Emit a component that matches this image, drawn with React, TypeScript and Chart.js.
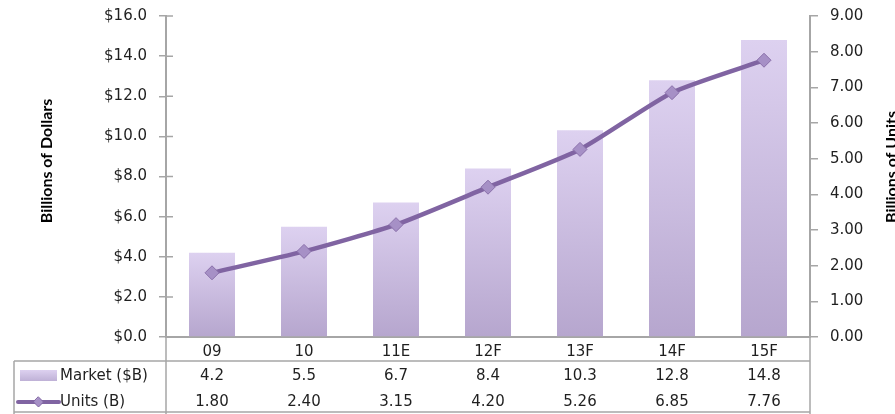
import React, { useEffect, useRef } from "react";
import { Chart, registerables } from "chart.js";

Chart.register(...registerables);

const categories = ["09", "10", "11E", "12F", "13F", "14F", "15F"];
const marketValues = [4.2, 5.5, 6.7, 8.4, 10.3, 12.8, 14.8];
const unitValues = [1.8, 2.4, 3.15, 4.2, 5.26, 6.85, 7.76];
const marketLabel = "Market ($B)";
const unitsLabel = "Units (B)";
const leftTitle = "Billions of Dollars";
const rightTitle = "Billions of Units";

const FONT = "'DejaVu Sans', Verdana, sans-serif";
const TEXT = "#1f1f1f";
const GRID = "#a6a6a6";
const LINE = "#8064a2";
const MARKER = "#a690c6";

export default function App() {
  const ref = useRef<HTMLCanvasElement | null>(null);

  useEffect(() => {
    const canvas = ref.current;
    if (!canvas) return;

    const tablePlugin = {
      id: "tablePlugin",
      afterDraw(chart: any) {
        const ctx = chart.ctx;
        const area = chart.chartArea;
        const x = chart.scales.x;
        const left = area.left;
        const right = area.right;
        const bottom = area.bottom;
        const tableLeft = 14;
        const headerBottom = bottom + 24;
        const tableBottom = 412;
        ctx.save();
        ctx.strokeStyle = GRID;
        ctx.lineWidth = 1.5;
        ctx.beginPath();
        ctx.moveTo(tableLeft, headerBottom);
        ctx.lineTo(right, headerBottom);
        ctx.moveTo(tableLeft, tableBottom);
        ctx.lineTo(right, tableBottom);
        ctx.moveTo(tableLeft, headerBottom);
        ctx.lineTo(tableLeft, 414);
        ctx.moveTo(left, bottom);
        ctx.lineTo(left, 414);
        ctx.moveTo(right, bottom);
        ctx.lineTo(right, 414);
        ctx.stroke();

        // inner tick crossings on left axis
        const y = chart.scales.y;
        ctx.lineWidth = 1.5;
        ctx.beginPath();
        y.ticks.forEach((t: any) => {
          const py = y.getPixelForValue(t.value);
          ctx.moveTo(left, py);
          ctx.lineTo(left + 7, py);
        });
        ctx.stroke();

        const row1 = headerBottom + 15;
        const row2 = headerBottom + 41;
        ctx.fillStyle = TEXT;
        ctx.font = `15px ${FONT}`;
        ctx.textAlign = "center";
        ctx.textBaseline = "middle";
        marketValues.forEach((v, i) => {
          ctx.fillText(v.toFixed(1), x.getPixelForValue(i), row1);
        });
        unitValues.forEach((v, i) => {
          ctx.fillText(v.toFixed(2), x.getPixelForValue(i), row2);
        });

        // legend swatches
        const g = ctx.createLinearGradient(0, row1 - 6, 0, row1 + 6);
        g.addColorStop(0, "#ddd1f0");
        g.addColorStop(1, "#bcaed4");
        ctx.fillStyle = g;
        ctx.fillRect(20, row1 - 6, 37, 11);
        ctx.strokeStyle = LINE;
        ctx.lineWidth = 4;
        ctx.lineCap = "round";
        ctx.beginPath();
        ctx.moveTo(18, row2);
        ctx.lineTo(59, row2);
        ctx.stroke();
        ctx.fillStyle = MARKER;
        ctx.strokeStyle = LINE;
        ctx.lineWidth = 1;
        ctx.beginPath();
        ctx.moveTo(38.5, row2 - 5);
        ctx.lineTo(43.5, row2);
        ctx.lineTo(38.5, row2 + 5);
        ctx.lineTo(33.5, row2);
        ctx.closePath();
        ctx.fill();
        ctx.stroke();

        ctx.fillStyle = TEXT;
        ctx.textAlign = "left";
        ctx.fillText(marketLabel, 60, row1);
        ctx.fillText(unitsLabel, 60, row2);

        // axis titles
        ctx.fillStyle = "#000";
        ctx.font = `bold 16px Lato, 'Open Sans', sans-serif`;
        ctx.textAlign = "center";
        ctx.save();
        ctx.translate(47, 161);
        ctx.rotate(-Math.PI / 2);
        ctx.fillText(leftTitle, 0, 0);
        ctx.restore();
        ctx.save();
        ctx.translate(892, 167);
        ctx.rotate(-Math.PI / 2);
        ctx.fillText(rightTitle, 0, 0);
        ctx.restore();
        ctx.restore();
      },
    };

    const chart = new Chart(canvas, {
      type: "bar",
      data: {
        labels: categories,
        datasets: [
          {
            type: "line",
            label: unitsLabel,
            data: unitValues,
            yAxisID: "y1",
            borderColor: LINE,
            borderWidth: 4.5,
            tension: 0.2,
            pointStyle: "rectRot",
            pointRadius: 7,
            pointBackgroundColor: MARKER,
            pointBorderColor: "#8a70aa",
            pointBorderWidth: 1,
            order: 0,
          } as any,
          {
            type: "bar",
            label: marketLabel,
            data: marketValues,
            yAxisID: "y",
            order: 1,
            categoryPercentage: 1,
            barPercentage: 0.5,
            backgroundColor: (c: any) => {
              const chart = c.chart;
              const area = chart.chartArea;
              if (!area) return "#c8bae0";
              const v = c.raw ?? 0;
              const top = chart.scales.y.getPixelForValue(v);
              const g = chart.ctx.createLinearGradient(0, top, 0, area.bottom);
              g.addColorStop(0, "#ddd1f0");
              g.addColorStop(1, "#b6a6ce");
              return g;
            },
          } as any,
        ],
      },
      options: {
        responsive: false,
        animation: false,
        devicePixelRatio: 1,
        layout: { padding: { top: 16, left: 0, right: 0, bottom: 0 } },
        plugins: {
          legend: { display: false },
          tooltip: { enabled: false },
        },
        scales: {
          x: {
            grid: { display: false },
            border: { color: GRID, width: 2 },
            ticks: {
              color: TEXT,
              font: { family: FONT, size: 15 },
              padding: -2,
              maxRotation: 0,
            },
            afterFit: (s: any) => {
              s.height = 77;
              s.paddingLeft = 0;
              s.paddingRight = 0;
            },
          },
          y: {
            position: "left",
            min: 0,
            max: 16,
            grid: { drawOnChartArea: false, color: GRID, tickLength: 7, lineWidth: 1.5 },
            border: { color: GRID, width: 2 },
            ticks: {
              stepSize: 2,
              color: TEXT,
              font: { family: FONT, size: 15 },
              padding: 12,
              callback: (v: any) => "$" + Number(v).toFixed(1),
            },
            afterFit: (s: any) => {
              s.width = 166;
              s.paddingTop = 0;
              s.paddingBottom = 0;
            },
          },
          y1: {
            position: "right",
            min: 0,
            max: 9,
            grid: { drawOnChartArea: false, color: GRID, tickLength: 8, lineWidth: 1.5 },
            border: { color: GRID, width: 2 },
            ticks: {
              stepSize: 1,
              color: TEXT,
              font: { family: FONT, size: 15 },
              padding: 12,
              callback: (v: any) => Number(v).toFixed(2),
            },
            afterFit: (s: any) => {
              s.width = 85;
              s.paddingTop = 0;
              s.paddingBottom = 0;
            },
          },
        },
      },
      plugins: [tablePlugin],
    });

    return () => chart.destroy();
  }, []);

  return (
    <div style={{ position: "absolute", left: 0, top: 0, width: 895, height: 414, background: "#fff" }}>
      <canvas ref={ref} width={895} height={414} style={{ display: "block" }} />
    </div>
  );
}
